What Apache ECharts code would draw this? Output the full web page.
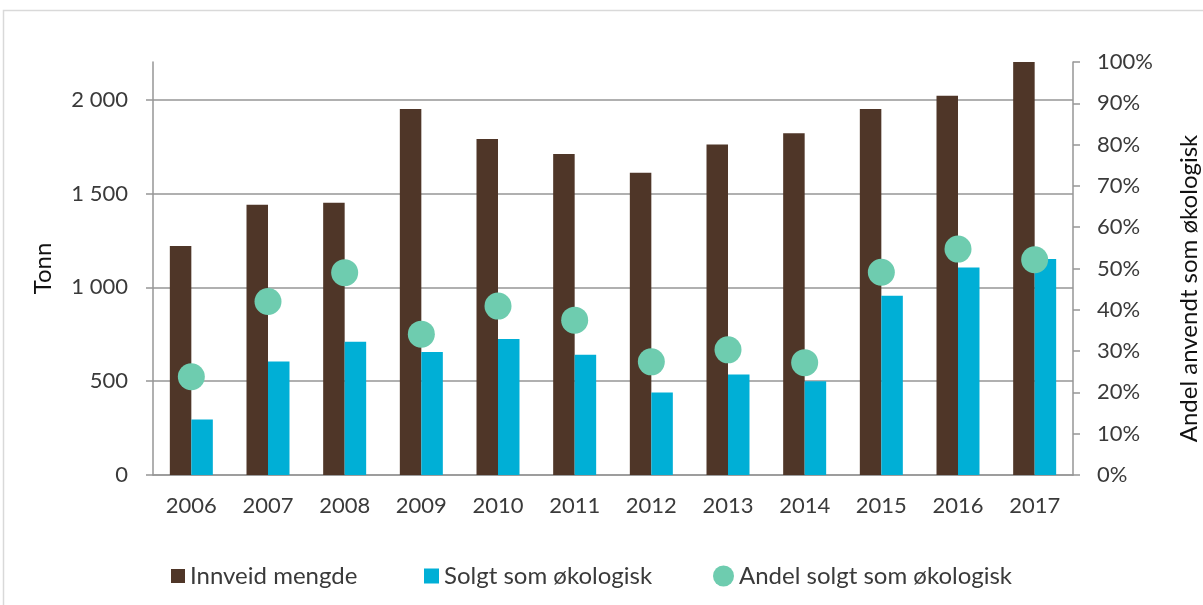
<!DOCTYPE html>
<html>
<head>
<meta charset="utf-8">
<script src="https://cdn.jsdelivr.net/npm/echarts@6/dist/echarts.min.js"></script>
<style>
  html, body { margin: 0; padding: 0; background: #fff; }
  #chart { width: 1203px; height: 605px; }
</style>
</head>
<body>
<div id="chart"></div>
<script>
// årstall
const years = ['2006', '2007', '2008', '2009', '2010', '2011', '2012', '2013', '2014', '2015', '2016', '2017'];
// tonn
const innveid = [1220, 1440, 1450, 1950, 1790, 1710, 1610, 1760, 1820, 1950, 2020, 2200];
const solgt = [295, 605, 710, 655, 725, 640, 440, 535, 500, 955, 1105, 1150];
// andel (0-1)
const andel = [0.238, 0.42, 0.49, 0.341, 0.409, 0.375, 0.274, 0.303, 0.272, 0.491, 0.547, 0.521];

const FONT = 'Lato';
const GRID_COLOR = '#969696';
const TEXT_COLOR = '#3a3a3a';

function formatTonn(v) {
  if (v >= 1000) {
    const rest = String(v % 1000).padStart(3, '0');
    return Math.floor(v / 1000) + ' ' + rest;
  }
  return String(v);
}

const legendText = { fontFamily: FONT, fontSize: 24, color: TEXT_COLOR };

const chart = echarts.init(document.getElementById('chart'));

chart.setOption({
  animation: false,
  textStyle: { fontFamily: FONT },
  graphic: [{
    type: 'rect',
    shape: { x: 3.5, y: 10.5, width: 1400, height: 800 },
    style: { fill: 'none', stroke: '#d9d9d9', lineWidth: 1.5 },
    silent: true
  }],
  grid: { left: 153, right: 130, top: 62, bottom: 130, outerBoundsMode: 'none' },
  legend: [
    {
      left: 166, top: 559,
      itemWidth: 14, itemHeight: 14,
      data: [{ name: 'Innveid mengde', icon: 'rect' }],
      textStyle: legendText
    },
    {
      left: 419, top: 559,
      itemWidth: 15, itemHeight: 15,
      data: [{ name: 'Solgt som økologisk', icon: 'rect' }],
      textStyle: legendText
    },
    {
      left: 708, top: 559,
      itemWidth: 21, itemHeight: 21,
      data: [{ name: 'Andel solgt som økologisk', icon: 'circle' }],
      textStyle: legendText
    }
  ],
  xAxis: {
    type: 'category',
    data: years,
    axisLine: { lineStyle: { color: GRID_COLOR, width: 1.5 } },
    axisTick: { length: 7, lineStyle: { color: GRID_COLOR, width: 1.5 } },
    axisLabel: { margin: 20, fontSize: 22, color: TEXT_COLOR, fontFamily: FONT }
  },
  yAxis: [
    {
      type: 'value',
      min: 0,
      max: 2200,
      interval: 500,
      name: 'Tonn',
      nameLocation: 'middle',
      nameGap: 98,
      nameTextStyle: { fontSize: 24, color: '#111', fontFamily: FONT },
      axisLine: { show: true, lineStyle: { color: GRID_COLOR, width: 1.5 } },
      axisTick: { show: true, length: 7, lineStyle: { color: GRID_COLOR, width: 1.5 } },
      axisLabel: {
        margin: 25, fontSize: 22, color: TEXT_COLOR, fontFamily: FONT,
        showMaxLabel: false,
        formatter: formatTonn
      },
      splitLine: { show: true, showMaxLine: false, lineStyle: { color: GRID_COLOR, width: 1.5 } }
    },
    {
      type: 'value',
      min: 0,
      max: 1,
      interval: 0.1,
      position: 'right',
      name: 'Andel anvendt som økologisk',
      nameLocation: 'middle',
      nameGap: 104,
      nameTextStyle: { fontSize: 24, color: '#111', fontFamily: FONT, padding: [0, 40, 0, 0] },
      axisLine: { show: true, lineStyle: { color: GRID_COLOR, width: 1.5 } },
      axisTick: { show: true, length: 7, lineStyle: { color: GRID_COLOR, width: 1.5 } },
      axisLabel: {
        margin: 24, fontSize: 22, color: TEXT_COLOR, fontFamily: FONT,
        formatter: v => Math.round(v * 100) + '%'
      },
      splitLine: { show: false }
    }
  ],
  series: [
    {
      name: 'Innveid mengde',
      type: 'bar',
      data: innveid,
      barWidth: 21.5,
      barGap: '0%',
      itemStyle: { color: '#4F3628' }
    },
    {
      name: 'Solgt som økologisk',
      type: 'bar',
      data: solgt,
      barWidth: 21.5,
      barGap: '0%',
      itemStyle: { color: '#00AFD6' }
    },
    {
      name: 'Andel solgt som økologisk',
      type: 'scatter',
      yAxisIndex: 1,
      data: andel,
      symbol: 'circle',
      symbolSize: 27,
      itemStyle: { color: '#6ECCAF', opacity: 1 },
      z: 5
    }
  ]
});
</script>
</body>
</html>
